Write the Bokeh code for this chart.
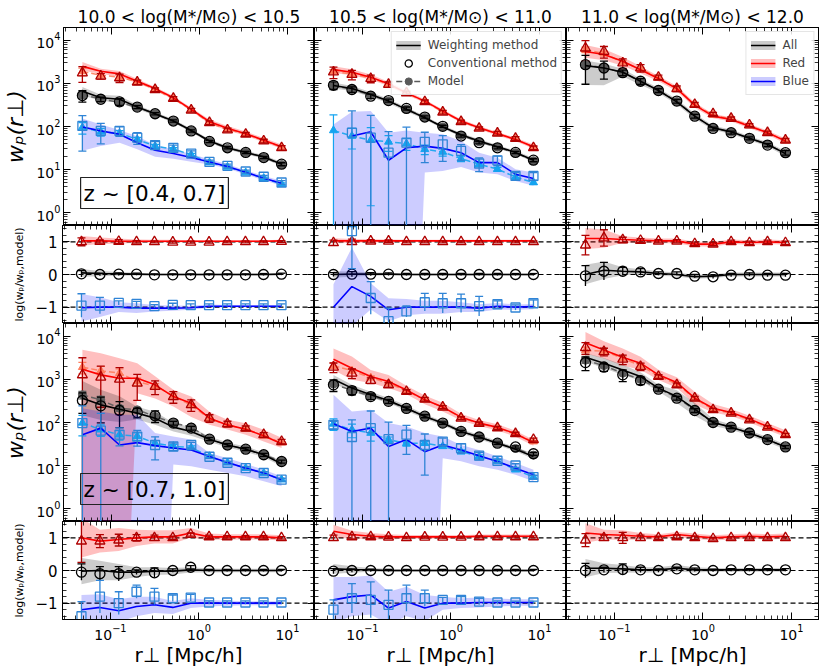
import numpy as np
from bokeh.plotting import figure
from bokeh.layouts import column, row
from bokeh.models import (LogAxis, LinearAxis, FixedTicker, LogTickFormatter, BasicTickFormatter,
                          CustomJSTickFormatter, Label, Span, Legend, LegendItem, Range1d)
from bokeh.embed import file_html
from bokeh.resources import INLINE

nan = float("nan")

# ---------------- data ----------------
r_perp = [0.047, 0.076, 0.124, 0.197, 0.314, 0.506, 0.807, 1.30, 2.08, 3.35, 5.36, 8.55]
titles = ["10.0 < log(M*/M⊙) < 10.5", "10.5 < log(M*/M⊙) < 11.0", "11.0 < log(M*/M⊙) < 12.0"]
z_labels = ["z ~ [0.4, 0.7]", "z ~ [0.7, 1.0]"]
y_label_main = "wₚ(r⊥)"
y_label_ratio = "log(wₚ/wₚ,model)"
x_label = "r⊥ [Mpc/h]"
x_ticks = [0.1, 1, 10]
wp_ticks = [1, 10, 100, 1000, 10000]
ratio_ticks = [-1, 0, 1]

# z ~ [0.4,0.7], 10.0-10.5
z1m1_red_w = [2500, 1920, 1670, 1130, 760, 464, 250, 129, 91, 68, 48, 34]
z1m1_red_band = [0.1, 0.06, 0.07, 0.05, 0.04, 0.04, 0.04, 0.05, 0.05, 0.05, 0.05, 0.05]
z1m1_red_c = [1760, 1480, 1350, 1070, 720, 450, 240, 123, 83, 66, 46, 32]
z1m1_red_cf = [0.4, 0.15, 0.22, 0.12, 0.1, 0.1, 0.1, 0.1, 0.1, 0.1, 0.1, 0.12]
z1m1_red_m = [1900, 1550, 1400, 1100, 730, 440, 245, 120, 85, 67, 47, 33]
z1m1_red_mf = [0.2, 0.1, 0.12, 0.08, 0.06, 0.06, 0.06, 0.06, 0.06, 0.06, 0.06, 0.06]
z1m1_all_w = [660, 464, 430, 283, 198, 134, 81, 46, 32, 24.8, 19.7, 13.3]
z1m1_all_band = [0.1, 0.07, 0.08, 0.05, 0.04, 0.04, 0.04, 0.04, 0.04, 0.04, 0.04, 0.05]
z1m1_all_c = [525, 430, 375, 283, 198, 134, 79, 45, 32, 25, 19, 13.3]
z1m1_all_cf = [0.3, 0.12, 0.18, 0.08, 0.06, 0.06, 0.06, 0.06, 0.06, 0.06, 0.06, 0.08]
z1m1_all_m = [540, 440, 360, 280, 195, 132, 80, 45, 31, 25, 19, 13]
z1m1_all_mf = [0.15, 0.08, 0.1, 0.05, 0.04, 0.04, 0.04, 0.04, 0.04, 0.04, 0.04, 0.05]
z1m1_blue_w = [97, 79, 66, 42, 28, 23.5, 19, 15, 11.8, 8.6, 6.3, 4.8]
z1m1_blue_blo = [0.55, 0.35, 0.2, 0.15, 0.15, 0.12, 0.1, 0.06, 0.05, 0.05, 0.05, 0.06]
z1m1_blue_bhi = [0.2, 0.15, 0.1, 0.15, 0.12, 0.1, 0.08, 0.06, 0.05, 0.05, 0.05, 0.06]
z1m1_blue_c = [103, 79, 79, 55, 37, 32, 23.5, 15, 12.2, 9.0, 6.8, 5.0]
z1m1_blue_cf = [0.74, 0.5, 0.25, 0.3, 0.2, 0.15, 0.15, 0.1, 0.1, 0.08, 0.08, 0.1]
z1m1_blue_m = [95, 75, 70, 50, 35, 30, 22, 14.5, 11.5, 8.5, 6.3, 4.6]
z1m1_blue_mf = [0.3, 0.2, 0.15, 0.12, 0.1, 0.08, 0.08, 0.06, 0.06, 0.06, 0.06, 0.06]

# z ~ [0.4,0.7], 10.5-11.0
z1m2_red_w = [2100, 1820, 1400, 980, 605, 389, 228, 134, 94, 68, 50, 34]
z1m2_red_band = [0.08, 0.07, 0.06, 0.05, 0.05, 0.04, 0.04, 0.04, 0.04, 0.04, 0.04, 0.05]
z1m2_red_c = [1850, 1620, 1300, 950, 605, 375, 215, 130, 91, 70, 53, 32]
z1m2_red_cf = [0.3, 0.25, 0.2, 0.15, 0.1, 0.1, 0.1, 0.08, 0.08, 0.1, 0.1, 0.1]
z1m2_red_m = [1900, 1650, 1350, 960, 600, 380, 220, 132, 92, 69, 51, 33]
z1m2_red_mf = [0.1, 0.08, 0.08, 0.06, 0.05, 0.05, 0.05, 0.05, 0.05, 0.05, 0.05, 0.05]
z1m2_all_w = [895, 763, 555, 389, 250, 160, 97, 64, 46, 34, 25, 16.5]
z1m2_all_band = [0.07, 0.06, 0.06, 0.05, 0.05, 0.04, 0.04, 0.04, 0.04, 0.04, 0.04, 0.05]
z1m2_all_c = [905, 725, 507, 400, 263, 166, 101, 60, 42, 32, 25, 16.5]
z1m2_all_cf = [0.2, 0.15, 0.12, 0.08, 0.08, 0.06, 0.06, 0.06, 0.06, 0.06, 0.06, 0.08]
z1m2_all_m = [880, 740, 530, 390, 255, 162, 98, 62, 44, 33, 24.5, 16]
z1m2_all_mf = [0.08, 0.06, 0.06, 0.05, 0.05, 0.04, 0.04, 0.04, 0.04, 0.04, 0.04, 0.05]
z1m2_blue_w = [nan, 60, 75.5, 16.4, 32, 35, 31, 24.6, 14.5, 14.5, 7.8, 6.2]
z1m2_blue_blv = [0, 0, 0, 0, 0, 8.5, 9.3, 11.5, 8.5, 7.8, 5.4, 4.2]
z1m2_blue_bhv = [112, 219, 228, 72, 81, 72, 66, 46, 24.6, 18.9, 10.2, 8.5]
z1m2_blue_c = [nan, 72, 55, 24.6, 42, 44, 38.5, 27, 13.8, 16.4, 7.1, 7.1]
z1m2_blue_cf = [0, 2.2, 2.3, 2.1, 1.3, 0.67, 0.6, 0.4, 0.35, 0.25, 0.2, 0.2]
z1m2_blue_m = [81, 60, 48, 44, 40, 29.6, 25.6, 17.9, 13.3, 10.2, 6.7, 5.0]
z1m2_blue_mf = [1.3, 0.5, 0.97, 0.4, 0.3, 0.25, 0.2, 0.15, 0.12, 0.1, 0.1, 0.1]

# z ~ [0.4,0.7], 11.0-12.0
z1m3_red_w = [5560, 4700, 3270, 2090, 1300, 760, 313, 174, 146, 102, 72, 46]
z1m3_red_band = [0.15, 0.13, 0.1, 0.08, 0.06, 0.06, 0.06, 0.05, 0.05, 0.05, 0.05, 0.06]
z1m3_red_c = [6640, 5560, 2990, 2290, 1390, 760, 324, 197, 154, 108, 72, 48]
z1m3_red_cf = [0.5, 0.3, 0.25, 0.2, 0.12, 0.15, 0.12, 0.08, 0.08, 0.08, 0.08, 0.1]
z1m3_red_m = [6100, 5000, 3100, 2200, 1350, 760, 320, 185, 150, 105, 72, 47]
z1m3_red_mf = [0.15, 0.12, 0.1, 0.08, 0.06, 0.06, 0.06, 0.05, 0.05, 0.05, 0.05, 0.05]
z1m3_all_w = [2600, 2290, 1820, 1125, 686, 373, 174, 93, 75.5, 53, 38.5, 23.4]
z1m3_all_blo = [0.45, 0.4, 0.1, 0.08, 0.06, 0.06, 0.06, 0.05, 0.05, 0.05, 0.05, 0.06]
z1m3_all_bhi = [0.12, 0.1, 0.08, 0.06, 0.06, 0.06, 0.06, 0.05, 0.05, 0.05, 0.05, 0.06]
z1m3_all_c = [2740, 2290, 1780, 1125, 686, 389, 174, 90, 72, 53, 37, 24.6]
z1m3_all_cf = [0.65, 0.45, 0.15, 0.15, 0.1, 0.1, 0.1, 0.08, 0.08, 0.08, 0.08, 0.12]
z1m3_all_m = [2700, 2300, 1800, 1100, 690, 380, 175, 92, 74, 53, 38, 24]
z1m3_all_mf = [0.15, 0.12, 0.1, 0.08, 0.06, 0.06, 0.06, 0.05, 0.05, 0.05, 0.05, 0.05]

# z ~ [0.7,1.0], 10.0-10.5
z2m1_red_w = [1730, 1280, 1070, 1070, 750, 400, 280, 126, 88, 70, 49, 32]
z2m1_red_blo = [9, 9, 9, 0.35, 0.32, 0.23, 0.32, 0.155, 0.11, 0.13, 0.13, 0.1]
z2m1_red_bhi = [0.45, 0.5, 0.465, 0.35, 0.2, 0.16, 0.16, 0.15, 0.12, 0.14, 0.14, 0.14]
z2m1_red_c = [1280, 1130, 1015, 820, 686, 400, 258, 126, 93, 74, 52, 36]
z2m1_red_cf = [1.5, 0.8, 0.85, 0.6, 0.35, 0.3, 0.3, 0.2, 0.15, 0.12, 0.12, 0.12]
z2m1_red_m = [1930, 1600, 1400, 900, 700, 420, 250, 122, 88, 70, 49, 34]
z2m1_red_mf = [0.3, 0.25, 0.25, 0.2, 0.15, 0.1, 0.1, 0.08, 0.06, 0.06, 0.06, 0.06]
z2m1_all_w = [368, 257, 204, 165, 126, 78, 62, 41, 30, 24, 17.8, 11]
z2m1_all_band = [0.4, 0.35, 0.3, 0.15, 0.15, 0.1, 0.1, 0.06, 0.06, 0.06, 0.06, 0.06]
z2m1_all_c = [325, 244, 190, 170, 143, 97, 74, 41, 30, 24, 17.8, 12.4]
z2m1_all_cf = [0.5, 0.6, 0.6, 0.25, 0.3, 0.1, 0.1, 0.08, 0.08, 0.08, 0.08, 0.08]
z2m1_all_m = [440, 336, 215, 197, 138, 97, 78, 41, 30, 24, 17.8, 12.4]
z2m1_all_mf = [0.2, 0.2, 0.15, 0.1, 0.1, 0.06, 0.06, 0.05, 0.05, 0.05, 0.05, 0.05]
z2m1_blue_w = [52, 74, 30, 34, 29, 25.5, 23, 16.3, 11.8, 8.7, 6.7, 4.7]
z2m1_blue_blv = [0, 0, 0, 0, 0, 10.5, 9.6, 8, 6.7, 5.6, 4.3, 3.3]
z2m1_blue_bhv = [215, 180, 151, 151, 57, 47, 40, 19.5, 14.8, 11, 8, 5.6]
z2m1_blue_c = [97, 65, 52, 47, 30, 27.7, 30, 16, 11.6, 8.7, 6.7, 4.7]
z2m1_blue_cf = [1.5, 1.5, 0.45, 0.4, 0.55, 0.2, 0.15, 0.08, 0.08, 0.08, 0.08, 0.08]
z2m1_blue_m = [98, 68, 52, 48, 33, 28, 26, 16.3, 11.6, 8.7, 6.7, 4.7]
z2m1_blue_mf = [0.5, 0.3, 0.25, 0.2, 0.15, 0.1, 0.1, 0.06, 0.06, 0.06, 0.06, 0.06]

# z ~ [0.7,1.0], 10.5-11.0
z2m2_red_w = [2950, 1830, 1170, 895, 570, 336, 228, 133, 97, 77, 55, 34]
z2m2_red_band = [0.25, 0.27, 0.15, 0.15, 0.1, 0.1, 0.1, 0.08, 0.07, 0.07, 0.07, 0.07]
z2m2_red_c = [1930, 1400, 944, 750, 525, 350, 228, 126, 95, 75, 55, 40]
z2m2_red_cf = [0.25, 0.25, 0.15, 0.12, 0.1, 0.1, 0.08, 0.08, 0.08, 0.08, 0.08, 0.08]
z2m2_red_m = [2100, 1600, 1100, 820, 540, 340, 225, 130, 95, 75, 54, 36]
z2m2_red_mf = [0.15, 0.12, 0.1, 0.08, 0.06, 0.06, 0.06, 0.05, 0.05, 0.05, 0.05, 0.05]
z2m2_all_w = [1015, 630, 440, 324, 215, 138, 97, 62, 46, 33, 24, 16.3]
z2m2_all_band = [0.1, 0.08, 0.07, 0.06, 0.06, 0.05, 0.05, 0.05, 0.05, 0.05, 0.05, 0.06]
z2m2_all_c = [750, 552, 400, 310, 212, 140, 97, 62, 46, 33, 27, 18.8]
z2m2_all_cf = [0.3, 0.2, 0.15, 0.1, 0.08, 0.08, 0.06, 0.06, 0.06, 0.06, 0.06, 0.08]
z2m2_all_m = [780, 560, 410, 310, 212, 140, 95, 62, 46, 33, 25, 17.5]
z2m2_all_mf = [0.12, 0.1, 0.08, 0.06, 0.05, 0.05, 0.05, 0.05, 0.05, 0.05, 0.05, 0.05]
z2m2_blue_w = [93, 62, 74, 27.7, 40, 21, 30, 23, 16.9, 12.4, 8.7, 6.1]
z2m2_blue_blv = [0, 0, 0, 0, 0, 0, 14.8, 12.5, 9.6, 8, 6.1, 4.3]
z2m2_blue_bhv = [440, 180, 197, 97, 81, 57, 47, 30, 23, 16.3, 11.5, 8]
z2m2_blue_c = [88.5, 46, 74, 41, 52, 30, 36, 25.5, 16.9, 12.9, 10, 5.4]
z2m2_blue_cf = [0.2, 1.5, 1.5, 1.5, 0.65, 0.8, 0.2, 0.25, 0.2, 0.1, 0.1, 0.1]
z2m2_blue_m = [93, 68, 57, 40, 33, 33, 28, 21, 16.3, 12.7, 8, 5.4]
z2m2_blue_mf = [0.3, 0.35, 0.35, 0.15, 0.15, 0.1, 0.1, 0.1, 0.08, 0.08, 0.08, 0.08]

# z ~ [0.7,1.0], 11.0-12.0
z2m3_red_w = [7180, 4860, 3290, 2390, 1280, 850, 368, 215, 171, 120, 81, 55]
z2m3_red_band = [0.25, 0.2, 0.2, 0.15, 0.12, 0.12, 0.15, 0.1, 0.08, 0.08, 0.08, 0.08]
z2m3_red_c = [5500, 4430, 2950, 2000, 1170, 750, 368, 197, 165, 115, 78, 52]
z2m3_red_cf = [0.3, 0.2, 0.25, 0.2, 0.1, 0.1, 0.1, 0.08, 0.08, 0.08, 0.08, 0.08]
z2m3_red_m = [4700, 4600, 3100, 2100, 1200, 780, 360, 200, 165, 115, 78, 52]
z2m3_red_mf = [0.2, 0.15, 0.12, 0.1, 0.08, 0.08, 0.06, 0.05, 0.05, 0.05, 0.05, 0.05]
z2m3_all_w = [3290, 2390, 1670, 1170, 630, 400, 204, 100, 78, 57, 40, 27]
z2m3_all_band = [0.1, 0.12, 0.12, 0.1, 0.08, 0.15, 0.15, 0.08, 0.06, 0.06, 0.06, 0.06]
z2m3_all_c = [2470, 1930, 1280, 944, 596, 368, 190, 100, 78, 57, 40, 27]
z2m3_all_cf = [0.35, 0.2, 0.3, 0.2, 0.1, 0.1, 0.1, 0.08, 0.08, 0.08, 0.08, 0.08]
z2m3_all_m = [2800, 2100, 1400, 1000, 610, 380, 195, 100, 78, 57, 40, 27]
z2m3_all_mf = [0.15, 0.12, 0.1, 0.08, 0.06, 0.06, 0.06, 0.05, 0.05, 0.05, 0.05, 0.05]

# ratio panels: log(wp / wp,model) deviations (line, band half-width, conventional, error)
q1m1_red = ([0.03, 0.03, 0.02, 0.02, 0.02, 0.02, 0.02, 0.02, 0.02, 0.02, 0.02, 0.03],
            [0.15, 0.1, 0.08, 0.05, 0.04, 0.04, 0.03, 0.03, 0.03, 0.03, 0.03, 0.03],
            [0.0, 0.01, 0.01, 0.0, 0.0, -0.01, -0.01, -0.01, 0.0, 0.0, 0.0, 0.01],
            [0.12, 0.05, 0.06, 0.04, 0.03, 0.03, 0.03, 0.03, 0.03, 0.03, 0.03, 0.03])
q1m1_all = ([0.05, 0.03, 0.02, 0.01, 0, 0, 0, 0, 0, 0, 0, 0.01],
            [0.12, 0.08, 0.06, 0.04, 0.03, 0.03, 0.03, 0.03, 0.03, 0.03, 0.03, 0.03],
            [0.02, 0.0, 0.01, 0.01, -0.01, -0.01, -0.01, -0.01, -0.01, -0.01, 0.0, 0.01],
            [0.1, 0.04, 0.04, 0.03, 0.03, 0.03, 0.03, 0.03, 0.03, 0.03, 0.03, 0.03])
q1m1_blue = ([-0.02, 0.0, 0.0, -0.03, -0.03, -0.03, -0.02, 0.03, 0.03, 0.03, 0.03, 0.03],
             [0.42, 0.3, 0.15, 0.15, 0.1, 0.08, 0.06, 0.05, 0.04, 0.04, 0.04, 0.04],
             [0.05, 0.05, 0.13, 0.1, 0.03, 0.07, 0.06, 0.06, 0.06, 0.06, 0.06, 0.06],
             [0.36, 0.25, 0.06, 0.08, 0.05, 0.05, 0.04, 0.04, 0.04, 0.04, 0.04, 0.04])
q1m2_red = ([0.03, 0.03, 0.03, 0.03, 0.03, 0.03, 0.03, 0.03, 0.03, 0.03, 0.03, 0.03],
            [0.08, 0.06, 0.05, 0.04, 0.03, 0.03, 0.03, 0.03, 0.03, 0.03, 0.03, 0.03],
            [-0.03, 0.0, 0.02, 0.02, 0.0, 0.0, 0.0, 0.0, 0.0, 0.0, 0.0, 0.0],
            [0.08, 0.08, 0.05, 0.04, 0.03, 0.03, 0.03, 0.03, 0.03, 0.03, 0.03, 0.03])
q1m2_all = ([0.0, 0.01, 0.01, 0.01, 0.0, 0.0, 0.0, 0.0, 0.0, 0.0, 0.0, 0.0],
            [0.1, 0.08, 0.05, 0.04, 0.03, 0.03, 0.03, 0.03, 0.03, 0.03, 0.03, 0.03],
            [0.0, 0.01, 0.01, 0.01, 0.0, 0.0, 0.0, 0.0, 0.0, 0.0, 0.0, 0.0],
            [0.06, 0.08, 0.05, 0.04, 0.03, 0.03, 0.03, 0.03, 0.03, 0.03, 0.03, 0.03])
q1m2_blue = ([0.0, 0.63, 0.33, -0.08, 0.0, 0.0, 0.0, 0.0, -0.03, 0.03, 0.0, 0.02],
             [0.7, 1.2, 0.4, 0.35, 0.25, 0.2, 0.2, 0.15, 0.12, 0.1, 0.08, 0.08],
             [nan, 2.33, 0.28, -0.43, -0.13, 0.15, 0.12, 0.12, 0.03, 0.09, -0.01, 0.12],
             [0, 1.15, 0.5, 0.4, 0.17, 0.27, 0.3, 0.28, 0.3, 0.1, 0.08, 0.1])
q1m3_red = ([0.1, 0.1, 0.07, 0.05, 0.03, 0.03, -0.07, -0.07, 0.0, -0.02, 0.0, -0.02],
            [0.32, 0.28, 0.1, 0.08, 0.07, 0.07, 0.07, 0.07, 0.07, 0.07, 0.07, 0.07],
            [-0.1, 0.12, 0.06, 0.04, 0.02, 0.02, -0.06, -0.07, 0.0, -0.03, 0.0, -0.03],
            [0.3, 0.25, 0.08, 0.06, 0.05, 0.05, 0.05, 0.05, 0.05, 0.05, 0.05, 0.05])
q1m3_all = ([0.0, 0.13, 0.1, 0.08, 0.03, 0.0, -0.07, -0.05, 0.0, 0.0, 0.0, 0.0],
            [0.3, 0.27, 0.12, 0.08, 0.07, 0.06, 0.06, 0.06, 0.06, 0.06, 0.06, 0.06],
            [-0.04, 0.1, 0.1, 0.08, 0.03, 0.03, -0.05, -0.07, -0.02, 0.0, -0.02, -0.02],
            [0.31, 0.27, 0.12, 0.1, 0.05, 0.05, 0.05, 0.05, 0.05, 0.05, 0.05, 0.05])
q2m1_red = ([0.0, -0.1, -0.05, 0.0, 0.03, 0.03, 0.15, 0.03, 0.03, 0.03, 0.03, 0.0],
            [0.6, 0.35, 0.35, 0.25, 0.2, 0.2, 0.15, 0.1, 0.08, 0.08, 0.08, 0.08],
            [-0.1, -0.1, -0.07, 0.0, 0.0, 0.0, 0.1, 0.03, 0.03, 0.03, 0.03, 0.0],
            [0.65, 0.2, 0.18, 0.1, 0.08, 0.05, 0.05, 0.05, 0.04, 0.04, 0.04, 0.04])
q2m1_all = ([-0.02, 0.0, -0.05, -0.05, -0.02, -0.02, 0.02, 0.0, 0.0, 0.0, 0.0, 0.0],
            [0.4, 0.3, 0.25, 0.15, 0.12, 0.1, 0.08, 0.06, 0.05, 0.05, 0.05, 0.05],
            [-0.05, -0.1, -0.1, -0.05, -0.07, 0.0, 0.1, 0.0, 0.0, 0.0, 0.0, 0.0],
            [0.25, 0.22, 0.22, 0.07, 0.15, 0.05, 0.05, 0.03, 0.03, 0.03, 0.03, 0.03])
q2m1_blue = ([-0.2, -0.13, -0.23, -0.1, -0.05, -0.13, 0.0, 0.0, 0.0, 0.0, 0.0, 0.0],
             [0.45, 0.4, 0.35, 0.3, 0.25, 0.2, 0.15, 0.1, 0.08, 0.06, 0.06, 0.06],
             [-0.4, 0.2, 0.0, 0.35, 0.2, 0.15, 0.17, 0.02, 0.02, 0.02, 0.02, 0.02],
             [0.45, 0.5, 0.35, 0.2, 0.25, 0.1, 0.1, 0.05, 0.05, 0.05, 0.05, 0.05])
q2m2_red = ([0.2, 0.1, 0.05, 0.03, 0.03, 0.03, 0.03, 0.03, 0.05, 0.05, 0.05, 0.05],
            [0.2, 0.12, 0.1, 0.08, 0.06, 0.06, 0.06, 0.05, 0.05, 0.05, 0.05, 0.05],
            [0.0, 0.03, 0.03, 0.02, 0.0, 0.02, 0.02, 0.02, 0.03, 0.03, 0.03, 0.03],
            [0.08, 0.06, 0.05, 0.04, 0.03, 0.03, 0.03, 0.03, 0.03, 0.03, 0.03, 0.03])
q2m2_all = ([0.05, 0.03, 0.02, 0.0, 0.0, 0.0, 0.0, 0.0, 0.0, 0.0, 0.0, 0.0],
            [0.15, 0.1, 0.06, 0.05, 0.04, 0.04, 0.04, 0.04, 0.04, 0.04, 0.04, 0.04],
            [-0.02, 0.0, 0.0, 0.0, 0.0, 0.0, 0.0, 0.0, 0.0, 0.0, 0.0, 0.0],
            [0.08, 0.05, 0.04, 0.03, 0.03, 0.03, 0.03, 0.03, 0.03, 0.03, 0.03, 0.03])
q2m2_blue = ([0.1, 0.2, 0.25, -0.15, 0.05, -0.15, 0.0, 0.0, 0.02, 0.02, 0.02, 0.02],
             [0.7, 0.6, 0.6, 0.5, 0.45, 0.4, 0.2, 0.15, 0.15, 0.12, 0.1, 0.1],
             [-0.2, 0.15, 0.1, -0.05, 0.15, 0.15, 0.1, 0.1, 0.05, 0.02, 0.02, 0.02],
             [0.3, 0.45, 0.55, 0.45, 0.4, 0.25, 0.08, 0.1, 0.1, 0.05, 0.04, 0.04])
q2m3_red = ([0.15, 0.1, 0.08, 0.05, 0.03, 0.1, 0.05, 0.0, 0.03, 0.05, 0.03, 0.05],
            [0.3, 0.15, 0.15, 0.1, 0.08, 0.08, 0.08, 0.08, 0.08, 0.08, 0.08, 0.08],
            [-0.07, 0.0, 0.0, 0.0, 0.0, 0.03, 0.0, -0.03, 0.0, 0.0, 0.0, 0.0],
            [0.2, 0.08, 0.17, 0.08, 0.05, 0.05, 0.05, 0.04, 0.04, 0.04, 0.04, 0.04])
q2m3_all = ([0.07, 0.07, 0.05, 0.02, 0.02, 0.07, 0.02, 0.02, 0.02, 0.02, 0.02, 0.02],
            [0.28, 0.15, 0.12, 0.08, 0.08, 0.1, 0.08, 0.06, 0.06, 0.06, 0.06, 0.06],
            [0.0, 0.02, 0.03, 0.02, 0.0, 0.05, 0.02, 0.0, 0.02, 0.02, 0.02, 0.02],
            [0.22, 0.08, 0.17, 0.08, 0.05, 0.05, 0.05, 0.04, 0.04, 0.04, 0.04, 0.04])

# ---------------- styling / layout ----------------
FONT = "DejaVu Sans"
STY = {
    "red": dict(c="#ff0000", a=0.25, cc="#b00000", cm="triangle", cs=10, mc="#ff7c5c", mm="triangle", ms=8, off=1.0),
    "all": dict(c="#000000", a=0.2, cc="#000000", cm="circle", cs=10, mc="#5a5a5a", mm="circle", ms=8, off=0.0),
    "blue": dict(c="#0000ff", a=0.2, cc="#2f84d6", cm="square", cs=9, mc="#14a4f0", mm="triangle", ms=8, off=-1.0),
}
XR = (0.0287, 20.2)
YR_MAIN = (0.5, 2.0e4)
YR_RAT = (-1.5, 1.5)
FW = 252
LB = [62, 0, 0]
RB = [0, 0, 12]
FH = [198, 98, 198, 98]
TB = [27, 0, 0, 0]
BB = [0, 0, 0, 50]
FLOOR = 1e-9

x_minor = [k * 10.0 ** e for e in (-2, -1, 0, 1) for k in range(2, 10) if XR[0] <= k * 10.0 ** e <= XR[1]]
y_minor = [k * 10.0 ** e for e in (-1, 0, 1, 2, 3, 4) for k in range(2, 10) if YR_MAIN[0] <= k * 10.0 ** e <= YR_MAIN[1]]
r_minor = [v / 10 for v in range(-14, 15, 2) if v % 10 != 0]


def make_axis(kind, labeled, ticks, minor, standoff, size="14px"):
    Ax = LogAxis if kind == "log" else LinearAxis
    if labeled:
        fmt = LogTickFormatter() if kind == "log" else BasicTickFormatter()
    else:
        fmt = CustomJSTickFormatter(code="return ''")
    return Ax(ticker=FixedTicker(ticks=ticks, minor_ticks=minor), formatter=fmt,
              axis_line_color="black", axis_line_width=1,
              major_tick_in=7, major_tick_out=0, minor_tick_in=4, minor_tick_out=0,
              major_tick_line_color="black", minor_tick_line_color="black",
              major_tick_line_width=1, minor_tick_line_width=0.8,
              major_label_text_font=FONT,
              major_label_text_font_size=size if labeled else "1px",
              major_label_standoff=standoff if labeled else 0,
              major_label_text_color="black",
              axis_label_text_font=FONT, axis_label_text_color="black")


def make_fig(ri, ci):
    is_main = ri in (0, 2)
    p = figure(width=FW + LB[ci] + RB[ci], height=FH[ri] + TB[ri] + BB[ri],
               x_axis_type="log", y_axis_type="log" if is_main else "linear",
               x_axis_location=None, y_axis_location=None,
               x_range=Range1d(*XR), y_range=Range1d(*(YR_MAIN if is_main else YR_RAT)),
               toolbar_location=None, output_backend="svg",
               min_border_left=LB[ci], min_border_right=RB[ci],
               min_border_top=TB[ri], min_border_bottom=BB[ri])
    p.grid.visible = False
    p.outline_line_color = "black"
    p.outline_line_width = 1
    p.background_fill_color = "white"
    p.border_fill_color = "white"
    if ri == 0:
        p.title.text = titles[ci]
        p.title.align = "center"
        p.title.text_font = FONT
        p.title.text_font_size = "17px"
        p.title.text_font_style = "normal"
        p.title.text_color = "black"
        p.title.standoff = 2
    bottom = make_axis("log", ri == 3, x_ticks, x_minor, 4, "14px")
    if ri == 3:
        bottom.axis_label = x_label
        bottom.axis_label_text_font_size = "20px"
        bottom.axis_label_text_font_style = "normal"
        bottom.axis_label_standoff = 0
    p.add_layout(bottom, "below")
    p.add_layout(make_axis("log", False, x_ticks, x_minor, 0), "above")
    if is_main:
        left = make_axis("log", ci == 0, wp_ticks, y_minor, 3, "14px")
        if ci == 0:
            left.axis_label = y_label_main
            left.axis_label_text_font_size = "22px"
            left.axis_label_text_font_style = "italic"
            left.axis_label_standoff = 5
        p.add_layout(left, "left")
        p.add_layout(make_axis("log", False, wp_ticks, y_minor, 0), "right")
    else:
        left = make_axis("lin", ci == 0, ratio_ticks, r_minor, 5, "15px")
        if ci == 0:
            left.axis_label = y_label_ratio
            left.axis_label_text_font_size = "11px"
            left.axis_label_text_font_style = "normal"
            left.axis_label_standoff = 6
        p.add_layout(left, "left")
        p.add_layout(make_axis("lin", False, ratio_ticks, r_minor, 0), "right")
    return p


def errbars(p, x, y, lo, hi, color, lw=1.3):
    x = np.asarray(x, float); y = np.asarray(y, float)
    ok = ~np.isnan(y)
    p.segment(x0=x[ok], y0=lo[ok], x1=x[ok], y1=hi[ok], line_color=color, line_width=lw)
    p.scatter(x[ok], hi[ok], marker="dash", size=8, line_color=color, line_width=lw)
    okl = ok & (lo > FLOOR * 10)
    p.scatter(x[okl], lo[okl], marker="dash", size=8, line_color=color, line_width=lw)


def draw_main(p, key, w, band, c, cf, m, mf):
    s = STY[key]
    x = np.array(r_perp, float)
    w = np.array(w, float)
    if band[0] == "dex":
        lo = w / 10 ** np.array(band[1], float)
        hi = w * 10 ** np.array(band[2], float)
    else:
        lo = np.array(band[1], float)
        hi = np.array(band[2], float)
    lo = np.maximum(lo, FLOOR)
    p.varea(x=x, y1=lo, y2=hi, fill_color=s["c"], fill_alpha=s["a"])
    m = np.array(m, float); mf = np.array(mf, float)
    p.line(x, m, line_color=s["mc"], line_dash="6 3", line_width=1.5, line_alpha=0.9)
    errbars(p, x, m, np.maximum(m * (1 - mf), FLOOR), m * (1 + mf), s["mc"], 1.2)
    p.scatter(x, m, marker=s["mm"], size=s["ms"], fill_color=s["mc"], line_color=s["mc"])
    p.line(x, w, line_color=s["c"], line_width=1.6)
    c = np.array(c, float); cf = np.array(cf, float)
    errbars(p, x, c, np.maximum(c * (1 - cf), FLOOR), c * (1 + cf), s["cc"], 1.3)
    p.scatter(x, c, marker=s["cm"], size=s["cs"], fill_color=None, line_color=s["cc"], line_width=1.3)


def draw_ratio(p, key, q):
    s = STY[key]
    x = np.array(r_perp, float)
    rw, rb, rc, rce = [np.array(a, float) for a in q]
    y = rw + s["off"]
    p.varea(x=x, y1=y - rb, y2=y + rb, fill_color=s["c"], fill_alpha=s["a"])
    p.line(x, y, line_color=s["c"], line_width=1.6)
    yc = rc + s["off"]
    errbars(p, x, yc, yc - rce, yc + rce, s["cc"], 1.3)
    p.scatter(x, yc, marker=s["cm"], size=s["cs"], fill_color=None, line_color=s["cc"], line_width=1.3)


def style_legend(leg):
    leg.location = "top_right"
    leg.label_text_font = FONT
    leg.label_text_font_size = "12px"
    leg.glyph_width = 25
    leg.glyph_height = 18
    leg.label_height = 17
    leg.label_standoff = 7
    leg.padding = 4
    leg.spacing = 0
    leg.margin = 4
    leg.border_line_color = "#cccccc"
    leg.border_line_width = 1
    leg.background_fill_alpha = 0.85


main_series = {
    (0, 0): [("red", z1m1_red_w, ("dex", z1m1_red_band, z1m1_red_band), z1m1_red_c, z1m1_red_cf, z1m1_red_m, z1m1_red_mf),
             ("all", z1m1_all_w, ("dex", z1m1_all_band, z1m1_all_band), z1m1_all_c, z1m1_all_cf, z1m1_all_m, z1m1_all_mf),
             ("blue", z1m1_blue_w, ("dex", z1m1_blue_blo, z1m1_blue_bhi), z1m1_blue_c, z1m1_blue_cf, z1m1_blue_m, z1m1_blue_mf)],
    (0, 1): [("red", z1m2_red_w, ("dex", z1m2_red_band, z1m2_red_band), z1m2_red_c, z1m2_red_cf, z1m2_red_m, z1m2_red_mf),
             ("all", z1m2_all_w, ("dex", z1m2_all_band, z1m2_all_band), z1m2_all_c, z1m2_all_cf, z1m2_all_m, z1m2_all_mf),
             ("blue", z1m2_blue_w, ("val", z1m2_blue_blv, z1m2_blue_bhv), z1m2_blue_c, z1m2_blue_cf, z1m2_blue_m, z1m2_blue_mf)],
    (0, 2): [("red", z1m3_red_w, ("dex", z1m3_red_band, z1m3_red_band), z1m3_red_c, z1m3_red_cf, z1m3_red_m, z1m3_red_mf),
             ("all", z1m3_all_w, ("dex", z1m3_all_blo, z1m3_all_bhi), z1m3_all_c, z1m3_all_cf, z1m3_all_m, z1m3_all_mf)],
    (2, 0): [("red", z2m1_red_w, ("dex", z2m1_red_blo, z2m1_red_bhi), z2m1_red_c, z2m1_red_cf, z2m1_red_m, z2m1_red_mf),
             ("all", z2m1_all_w, ("dex", z2m1_all_band, z2m1_all_band), z2m1_all_c, z2m1_all_cf, z2m1_all_m, z2m1_all_mf),
             ("blue", z2m1_blue_w, ("val", z2m1_blue_blv, z2m1_blue_bhv), z2m1_blue_c, z2m1_blue_cf, z2m1_blue_m, z2m1_blue_mf)],
    (2, 1): [("red", z2m2_red_w, ("dex", z2m2_red_band, z2m2_red_band), z2m2_red_c, z2m2_red_cf, z2m2_red_m, z2m2_red_mf),
             ("all", z2m2_all_w, ("dex", z2m2_all_band, z2m2_all_band), z2m2_all_c, z2m2_all_cf, z2m2_all_m, z2m2_all_mf),
             ("blue", z2m2_blue_w, ("val", z2m2_blue_blv, z2m2_blue_bhv), z2m2_blue_c, z2m2_blue_cf, z2m2_blue_m, z2m2_blue_mf)],
    (2, 2): [("red", z2m3_red_w, ("dex", z2m3_red_band, z2m3_red_band), z2m3_red_c, z2m3_red_cf, z2m3_red_m, z2m3_red_mf),
             ("all", z2m3_all_w, ("dex", z2m3_all_band, z2m3_all_band), z2m3_all_c, z2m3_all_cf, z2m3_all_m, z2m3_all_mf)],
}
ratio_series = {
    (1, 0): [("red", q1m1_red), ("all", q1m1_all), ("blue", q1m1_blue)],
    (1, 1): [("red", q1m2_red), ("all", q1m2_all), ("blue", q1m2_blue)],
    (1, 2): [("red", q1m3_red), ("all", q1m3_all)],
    (3, 0): [("red", q2m1_red), ("all", q2m1_all), ("blue", q2m1_blue)],
    (3, 1): [("red", q2m2_red), ("all", q2m2_all), ("blue", q2m2_blue)],
    (3, 2): [("red", q2m3_red), ("all", q2m3_all)],
}

proxy_x = r_perp[:1]
proxy_y = [nan]

panel_rows = []
for ri in range(4):
    figs = []
    for ci in range(3):
        p = make_fig(ri, ci)
        if ri in (0, 2):
            for ser in main_series[(ri, ci)]:
                draw_main(p, *ser)
        else:
            for v in ratio_ticks:
                p.add_layout(Span(location=v, dimension="width", line_color="black",
                                  line_dash="5 3", line_width=1.2, level="underlay"))
            for key, q in ratio_series[(ri, ci)]:
                draw_ratio(p, key, q)
        if ri in (0, 2) and ci == 0:
            p.add_layout(Label(x=91, y=32.5, x_units="screen", y_units="screen", text=z_labels[ri // 2],
                               text_font=FONT, text_font_size="21.5px", text_align="center",
                               text_baseline="middle", text_color="black",
                               border_line_color="#222222", border_line_width=1.2,
                               background_fill_color=None, padding=3))
        leg = None
        if ri == 0 and ci == 1:
            g1 = p.line(x=proxy_x, y=proxy_y, line_color="black", line_alpha=0.2, line_width=9)
            g2 = p.line(x=proxy_x, y=proxy_y, line_color="black", line_width=1.6)
            g3 = p.scatter(x=proxy_x, y=proxy_y, marker="circle", fill_color=None, line_color="black", line_width=1.3)
            g4 = p.line(x=proxy_x, y=proxy_y, line_color="#5a5a5a", line_dash="6 3", line_width=1.5)
            g5 = p.scatter(x=proxy_x, y=proxy_y, marker="circle", fill_color="#5a5a5a", line_color="#5a5a5a")
            leg = Legend(items=[LegendItem(label="Weighting method", renderers=[g1, g2]),
                                LegendItem(label="Conventional method", renderers=[g3]),
                                LegendItem(label="Model", renderers=[g4, g5])])
        elif ri == 0 and ci == 2:
            items = []
            for key, name in (("all", "All"), ("red", "Red"), ("blue", "Blue")):
                s = STY[key]
                a1 = p.line(x=proxy_x, y=proxy_y, line_color=s["c"], line_alpha=s["a"], line_width=9)
                a2 = p.line(x=proxy_x, y=proxy_y, line_color=s["c"], line_width=1.6)
                items.append(LegendItem(label=name, renderers=[a1, a2]))
            leg = Legend(items=items)
        if leg is not None:
            style_legend(leg)
            p.add_layout(leg)
        figs.append(p)
    panel_rows.append(row(*figs))

layout = column(*panel_rows)
open("out.html", "w").write(file_html(layout, INLINE))
